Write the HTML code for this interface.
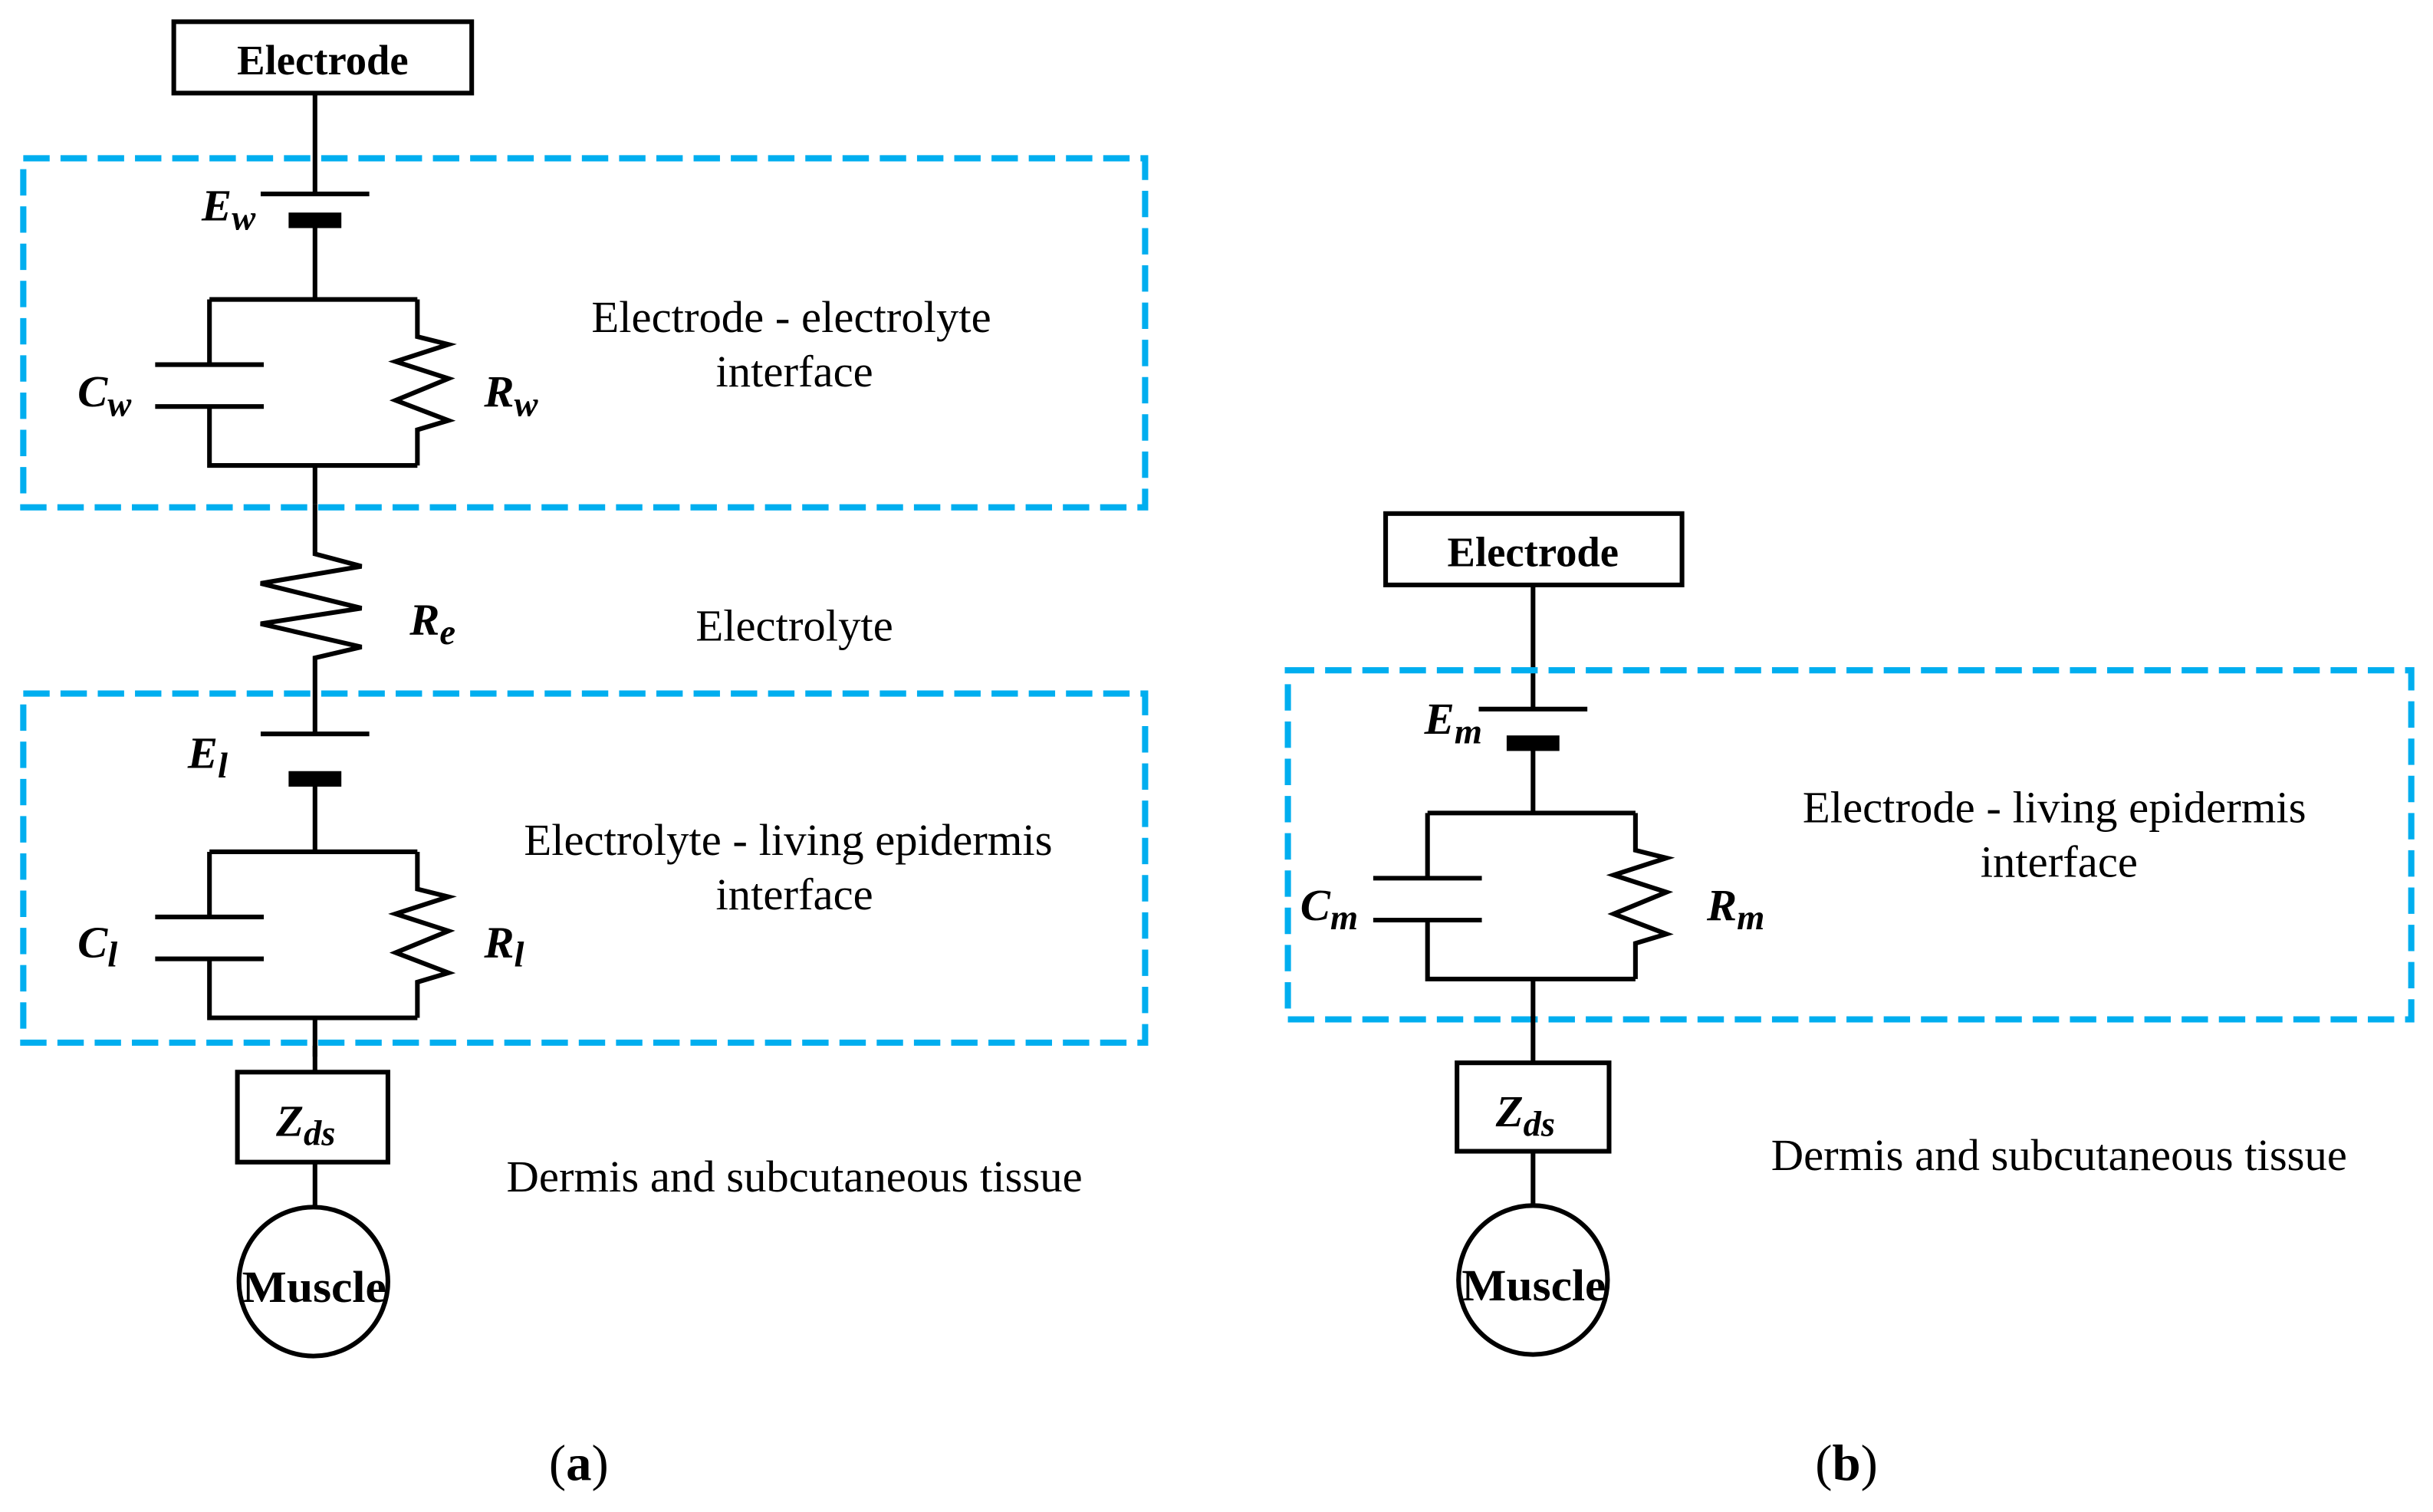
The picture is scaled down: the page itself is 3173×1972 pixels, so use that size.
<!DOCTYPE html>
<html><head><meta charset="utf-8"><style>
html,body{margin:0;padding:0;background:#fff;}
svg{display:block;}
.w{stroke:#000;stroke-width:3;fill:none;}
.d{stroke:#00AEEF;stroke-width:4;fill:none;stroke-dasharray:17 7;}
.t{font-family:"Liberation Serif",serif;font-size:29px;fill:#000;text-anchor:middle;}
.b{font-family:"Liberation Serif",serif;font-size:27px;font-weight:bold;fill:#000;text-anchor:middle;}
.mu{font-family:"Liberation Serif",serif;font-size:29px;font-weight:bold;fill:#000;}
.m{font-family:"Liberation Serif",serif;font-style:italic;font-weight:bold;font-size:29px;fill:#000;}
.s{font-size:23px;}
.p{font-family:"Liberation Serif",serif;font-size:33px;fill:#000;text-anchor:middle;}
</style></head><body>
<svg width="3173" height="1972" viewBox="0 0 1568 974.5" preserveAspectRatio="none" xmlns="http://www.w3.org/2000/svg">
<defs>
<g id="bat">
  <line class="w" x1="-35" y1="0" x2="35" y2="0"/>
</g>
<g id="rc">
  <polyline class="w" points="-68,0 66,0"/>
  <polyline class="w" points="-68,0 -68,42"/>
  <line class="w" x1="-103" y1="42" x2="-33" y2="42"/>
  <line class="w" x1="-103" y1="69" x2="-33" y2="69"/>
  <polyline class="w" points="-68,69 -68,107 66,107"/>
  <polyline class="w" points="66,0 66,24 86,29 52,40 86,51 52,65 86,78 66,84 66,107"/>
  <line class="w" x1="0" y1="107" x2="0" y2="132"/>
</g>
</defs>

<!-- (a) -->
<rect class="w" x="112" y="14" width="192" height="46"/>
<text class="b" x="208" y="48">Electrode</text>
<line class="w" x1="203" y1="60" x2="203" y2="125"/>
<rect class="d" x="15" y="102" width="723" height="225"/>
<use href="#bat" x="203" y="125"/>
<rect x="186" y="137" width="34" height="10" fill="#000"/>
<line class="w" x1="203" y1="146" x2="203" y2="193"/>
<use href="#rc" x="203" y="193"/>
<text class="m" x="130" y="142">E<tspan class="s" dy="6">w</tspan></text>
<text class="m" x="50" y="262">C<tspan class="s" dy="6">w</tspan></text>
<text class="m" x="312" y="262">R<tspan class="s" dy="6">w</tspan></text>
<text class="t" x="510" y="214">Electrode - electrolyte</text>
<text class="t" x="512" y="249">interface</text>

<polyline class="w" points="203,325 203,357 233,365 168,376 233,392 168,402 233,417 203,424 203,473"/>
<text class="m" x="264" y="409">R<tspan class="s" dy="6">e</tspan></text>
<text class="t" x="512" y="413">Electrolyte</text>

<rect class="d" x="15" y="447" width="723" height="225"/>
<use href="#bat" x="203" y="473"/>
<rect x="186" y="497" width="34" height="10" fill="#000"/>
<line class="w" x1="203" y1="506" x2="203" y2="549"/>
<use href="#rc" x="203" y="549"/>
<text class="m" x="121" y="495">E<tspan class="s" dy="6">l</tspan></text>
<text class="m" x="50" y="617">C<tspan class="s" dy="6">l</tspan></text>
<text class="m" x="312" y="617">R<tspan class="s" dy="6">l</tspan></text>
<text class="t" x="508" y="551">Electrolyte - living epidermis</text>
<text class="t" x="512" y="586">interface</text>

<line class="w" x1="203" y1="674" x2="203" y2="692"/>
<rect class="w" x="153" y="691" width="97" height="58"/>
<text class="m" x="178" y="732">Z<tspan class="s" dy="6">ds</tspan></text>
<line class="w" x1="203" y1="749" x2="203" y2="778"/>
<ellipse class="w" cx="202" cy="826" rx="48" ry="48"/>
<text class="mu" x="156" y="839" textLength="93" lengthAdjust="spacingAndGlyphs">Muscle</text>
<text class="t" x="512" y="768">Dermis and subcutaneous tissue</text>
<text class="p" x="373" y="954">(<tspan font-weight="bold">a</tspan>)</text>

<!-- (b) -->
<rect class="w" x="893" y="331" width="191" height="46"/>
<text class="b" x="988" y="365">Electrode</text>
<line class="w" x1="988" y1="377" x2="988" y2="457"/>
<rect class="d" x="830" y="432" width="724" height="225"/>
<use href="#bat" x="988" y="457"/>
<rect x="971" y="474" width="34" height="10" fill="#000"/>
<line class="w" x1="988" y1="483" x2="988" y2="524"/>
<use href="#rc" x="988" y="524"/>
<text class="m" x="918" y="473">E<tspan class="s" dy="6">m</tspan></text>
<text class="m" x="838" y="593">C<tspan class="s" dy="6">m</tspan></text>
<text class="m" x="1100" y="593">R<tspan class="s" dy="6">m</tspan></text>
<text class="t" x="1324" y="530">Electrode - living epidermis</text>
<text class="t" x="1327" y="565">interface</text>
<line class="w" x1="988" y1="655" x2="988" y2="686"/>
<rect class="w" x="939" y="685" width="98" height="57"/>
<text class="m" x="964" y="726">Z<tspan class="s" dy="6">ds</tspan></text>
<line class="w" x1="988" y1="742" x2="988" y2="777"/>
<ellipse class="w" cx="988" cy="825" rx="48" ry="48"/>
<text class="mu" x="942" y="838" textLength="93" lengthAdjust="spacingAndGlyphs">Muscle</text>
<text class="t" x="1327" y="754">Dermis and subcutaneous tissue</text>
<text class="p" x="1190" y="954">(<tspan font-weight="bold">b</tspan>)</text>
</svg>
</body></html>
